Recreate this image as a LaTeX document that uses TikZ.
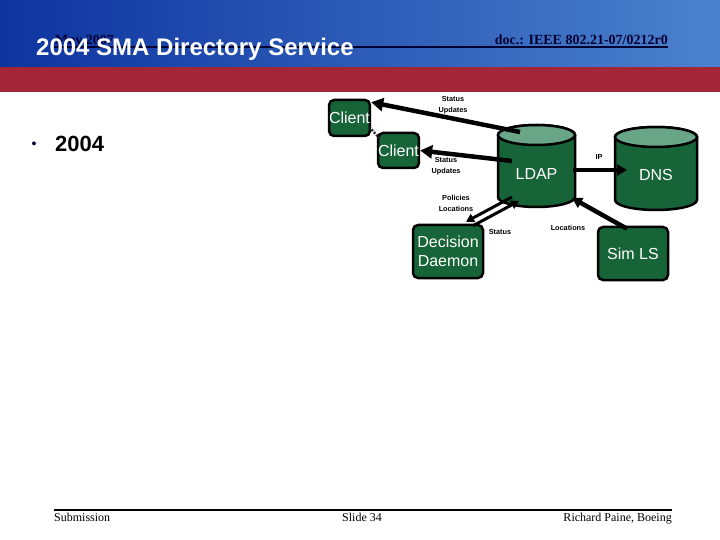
\documentclass[tikz,border=0pt]{standalone}
\usepackage{fontspec}
\setmainfont{Liberation Sans}
\newfontfamily\serifft{Liberation Serif}
\usetikzlibrary{arrows.meta,calc}
\definecolor{boxgreen}{RGB}{22,100,55}
\definecolor{topgreen}{RGB}{105,165,135}
\definecolor{hdrred}{RGB}{163,38,56}
\definecolor{hdrblueL}{RGB}{14,52,160}
\definecolor{hdrblueR}{RGB}{75,130,205}
\definecolor{navy}{RGB}{0,0,50}
\begin{document}
\begin{tikzpicture}[x=1pt,y=-1pt,
  box/.style={draw=black, line width=2.5pt, rounded corners=5pt, fill=boxgreen, text=white,
    font=\fontsize{16}{19}\selectfont, align=center, inner sep=0pt},
  holder/.style={inner sep=0pt, outer sep=0pt},
  cyltext/.style={text=white, font=\fontsize{16}{19}\selectfont, inner sep=0pt},
  cylbody/.style={fill=boxgreen, draw=black, line width=2.5pt},
  cyltop/.style={fill=topgreen, draw=black, line width=2.5pt},
  lbl/.style={font=\bfseries\fontsize{7.3}{11}\selectfont, align=center, inner sep=0pt},
  bigarrow/.style={line width=4.5pt, -{Triangle[length=12pt,width=13pt]}},
  midarrow/.style={line width=4.5pt, -{Triangle[length=10pt,width=11pt]}},
  thinarrow/.style={line width=3pt, -{Triangle[length=8pt,width=9pt]}},
  hdrtext/.style={inner sep=0pt, font=\serifft\bfseries\fontsize{14}{16}\selectfont, text=navy},
  foottext/.style={inner sep=0pt, font=\serifft\fontsize{12}{14}\selectfont},
]
\useasboundingbox (0,0) rectangle (720,540);
% header
\shade[left color=hdrblueL, right color=hdrblueR] (0,0) rectangle (720,67);
\fill[hdrred] (0,67) rectangle (720,92);
\node[hdrtext, anchor=base west] (date) at (55,45) {May 2007};
\node[hdrtext, anchor=base east] (doc) at (668,45) {doc.: IEEE 802.21-07/0212r0};
\draw[navy, line width=2pt] (54,47.5) -- (668,47.5);
\node[anchor=base west, inner sep=0pt, text=white, font=\bfseries\fontsize{24}{28}\selectfont] (title) at (36,56) {2004 SMA Directory Service};

% bullet
\node[inner sep=0pt, text=navy, font=\fontsize{14}{16}\selectfont] (bul) at (34,145) {\textbullet};
\node[anchor=base west, inner sep=0pt, font=\bfseries\fontsize{22}{26}\selectfont] (yr) at (55,152) {2004};

% footer
\draw[line width=1.5pt] (54,510) -- (672,510);
\node[foottext, anchor=base west] (sub) at (54,521) {Submission};
\node[foottext, anchor=base west] (slide) at (342,521) {Slide 34};
\node[foottext, anchor=base east] (auth) at (672,521) {Richard Paine, Boeing};

% boxes
\node[box, minimum width=39pt, minimum height=36pt] (c1) at (349.5,118) {Client};
\node[box, minimum width=39pt, minimum height=35pt] (c2) at (398.5,150.5) {Client};
\node[box, minimum width=70pt, minimum height=53pt] (dd) at (448,251.5) {Decision\\Daemon};
\node[box, minimum width=70pt, minimum height=53pt] (sl) at (633,253.5) {Sim LS};

% LDAP cylinder
\node[holder, minimum width=77pt, minimum height=82pt] (ldap) at (536.5,166) {};
\path[cylbody] ($(ldap.north west)+(0,10)$) -- ($(ldap.south west)+(0,-10)$)
  arc[start angle=180, end angle=360, x radius=38.5pt, y radius=10pt]
  -- ($(ldap.north east)+(0,10)$)
  arc[start angle=0, end angle=180, x radius=38.5pt, y radius=10pt] -- cycle;
\path[cyltop] ($(ldap.north)+(0,10)$) ellipse[x radius=38.5pt, y radius=10pt];
\node[cyltext] (ldaplbl) at ($(ldap.center)+(0,8)$) {LDAP};

% DNS cylinder
\node[holder, minimum width=82pt, minimum height=83pt] (dns) at (656,168.5) {};
\path[cylbody] ($(dns.north west)+(0,10)$) -- ($(dns.south west)+(0,-10)$)
  arc[start angle=180, end angle=360, x radius=41pt, y radius=10pt]
  -- ($(dns.north east)+(0,10)$)
  arc[start angle=0, end angle=180, x radius=41pt, y radius=10pt] -- cycle;
\path[cyltop] ($(dns.north)+(0,10)$) ellipse[x radius=41pt, y radius=10pt];
\node[cyltext] (dnslbl) at ($(dns.center)+(0,6.5)$) {DNS};

% connectors
\draw[bigarrow] ($(ldap.center)+(-16.5,-34)$) -- (c1.36);
\draw[bigarrow] ($(ldap.center)+(-24.5,-5)$) -- (c2.east);
\draw[midarrow] ($(ldap.center)+(36.5,4)$) -- ($(dns.center)+(-29,1.5)$);
\draw[thinarrow] ($(ldap.center)+(-24.5,31)$) -- ($(dd.north)+(18,-2)$);
\draw[thinarrow] ($(dd.north)+(25,2)$) -- ($(ldap.center)+(-17.5,35)$);
\draw[midarrow] ($(sl.north)+(-6,3)$) -- ($(ldap.center)+(35.5,32)$);
\draw[line width=2.5pt, dash pattern=on 2pt off 1.5pt, black!85] ($(c1.east)+(-2,9)$) -- ($(c2.west)+(3,-12)$);

% labels
\node[lbl] (l1) at (453,105) {Status\\Updates};
\node[lbl] (l2) at (446,166) {Status\\Updates};
\node[lbl] (l3) at (599,157) {IP};
\node[lbl] (l4) at (456,203) {Policies\\Locations};
\node[lbl] (l5) at (500,232) {Status};
\node[lbl] (l6) at (568,228) {Locations};
\end{tikzpicture}
\end{document}
